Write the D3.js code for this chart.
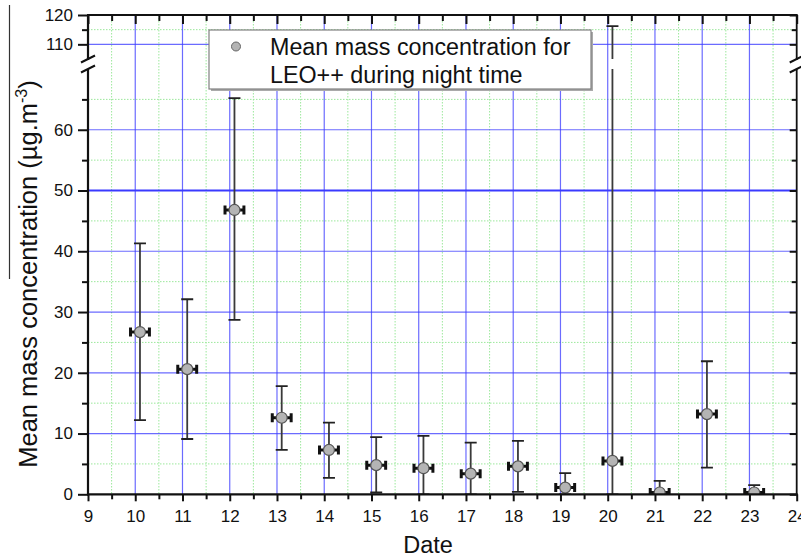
<!DOCTYPE html>
<html><head><meta charset="utf-8">
<script src="https://cdn.jsdelivr.net/npm/d3@7"></script>
<style>body{margin:0;background:#fff}svg{display:block}text{font-family:Arial,"Liberation Sans",sans-serif;fill:#111}</style>
</head><body><svg id="c" width="801" height="559"></svg>
<script>
// ---- data ----
const days = [10,11,12,13,14,15,16,17,18,19,20,21,22,23];
const means = [26.7,20.6,46.8,12.6,7.3,4.8,4.3,3.4,4.6,1.1,5.5,0.3,13.2,0.3];
const upperErr = [41.3,32.1,65.2,17.8,11.8,9.4,9.6,8.5,8.8,3.5,116.2,2.2,21.9,1.5];
const lowerErr = [12.2,9.1,28.7,7.3,2.7,0.3,0,0,0.4,0,0,0,4.4,0];
const xTicks = [9,10,11,12,13,14,15,16,17,18,19,20,21,22,23,24];
const yTicksLow = [0,10,20,30,40,50,60];
const yTicksUp = [110,120];
const yMinorLow = [5,15,25,35,45,55,65];
const yMinorUp = [115];
const xOffset = 0.1, xErr = 0.2;
const legendLines = ["Mean mass concentration for","LEO++ during night time"];

const svg = d3.select("#c");
const x = d3.scaleLinear().domain([9,24]).range([88,796.7]);
const yLow = d3.scaleLinear().domain([0,70]).range([494.3,69]);
const yUp = d3.scaleLinear().domain([105,120]).range([59,15]);
const L = x.range()[0], R = x.range()[1];
const BLUE = "#3a3aff", GREEN = "#9be89b";
const xMinor = d3.range(9.5,24,1);

const defs = svg.append("defs");
defs.append("clipPath").attr("id","clipLow").append("rect")
  .attr("x",L).attr("y",yLow(70)).attr("width",R-L).attr("height",yLow(0)-yLow(70));
defs.append("clipPath").attr("id","clipUp").append("rect")
  .attr("x",L).attr("y",yUp(120)).attr("width",R-L).attr("height",yUp(105)-yUp(120));

const grid = svg.append("g");
grid.selectAll(".vm").data(xMinor).join("line")
  .attr("x1",d=>x(d)).attr("x2",d=>x(d)).attr("y1",yUp(120)).attr("y2",yLow(0))
  .attr("stroke",GREEN).attr("stroke-width",1).attr("stroke-dasharray","1.5,1.5");
grid.selectAll(".hml").data(yMinorLow).join("line")
  .attr("x1",L).attr("x2",R).attr("y1",d=>yLow(d)).attr("y2",d=>yLow(d))
  .attr("stroke",GREEN).attr("stroke-width",1).attr("stroke-dasharray","1.5,1.5");
grid.selectAll(".hmu").data(yMinorUp).join("line")
  .attr("x1",L).attr("x2",R).attr("y1",d=>yUp(d)).attr("y2",d=>yUp(d))
  .attr("stroke",GREEN).attr("stroke-width",1).attr("stroke-dasharray","1.5,1.5");
grid.selectAll(".vM").data(xTicks.slice(1,-1)).join("line")
  .attr("x1",d=>x(d)).attr("x2",d=>x(d)).attr("y1",yUp(120)).attr("y2",yLow(0))
  .attr("stroke",BLUE).attr("stroke-opacity",0.75).attr("stroke-width",1.2);
grid.selectAll(".hMl").data(yTicksLow.slice(1)).join("line")
  .attr("x1",L).attr("x2",R).attr("y1",d=>yLow(d)).attr("y2",d=>yLow(d))
  .attr("stroke",BLUE).attr("stroke-opacity",d=>d===50?1:0.75).attr("stroke-width",d=>d===50?2:1.2);
grid.selectAll(".hMu").data([110]).join("line")
  .attr("x1",L).attr("x2",R).attr("y1",d=>yUp(d)).attr("y2",d=>yUp(d))
  .attr("stroke",BLUE).attr("stroke-opacity",0.75).attr("stroke-width",1.2);

function drawMarks(y, clip){
  const g = svg.append("g").attr("clip-path",`url(#${clip})`);
  const pts = days.map((d,i)=>({d, m:means[i], hi:upperErr[i], lo:lowerErr[i]}));
  g.selectAll(".ev").data(pts).join("line")
    .attr("x1",p=>x(p.d+xOffset)).attr("x2",p=>x(p.d+xOffset))
    .attr("y1",p=>y(p.hi)).attr("y2",p=>y(p.lo))
    .attr("stroke","#3a3a3a").attr("stroke-width",1.8);
  g.selectAll(".ct").data(pts).join("line")
    .attr("x1",p=>x(p.d+xOffset)-6).attr("x2",p=>x(p.d+xOffset)+6)
    .attr("y1",p=>y(p.hi)).attr("y2",p=>y(p.hi))
    .attr("stroke","#222").attr("stroke-width",1.8);
  g.selectAll(".cb").data(pts).join("line")
    .attr("x1",p=>x(p.d+xOffset)-6).attr("x2",p=>x(p.d+xOffset)+6)
    .attr("y1",p=>y(p.lo)).attr("y2",p=>y(p.lo))
    .attr("stroke","#222").attr("stroke-width",1.8);
  g.selectAll(".eh").data(pts).join("line")
    .attr("x1",p=>x(p.d+xOffset-xErr)).attr("x2",p=>x(p.d+xOffset+xErr))
    .attr("y1",p=>y(p.m)).attr("y2",p=>y(p.m))
    .attr("stroke","#111").attr("stroke-width",3);
  g.selectAll(".chl").data(pts).join("line")
    .attr("x1",p=>x(p.d+xOffset-xErr)).attr("x2",p=>x(p.d+xOffset-xErr))
    .attr("y1",p=>y(p.m)-4.5).attr("y2",p=>y(p.m)+4.5)
    .attr("stroke","#111").attr("stroke-width",3);
  g.selectAll(".chr").data(pts).join("line")
    .attr("x1",p=>x(p.d+xOffset+xErr)).attr("x2",p=>x(p.d+xOffset+xErr))
    .attr("y1",p=>y(p.m)-4.5).attr("y2",p=>y(p.m)+4.5)
    .attr("stroke","#111").attr("stroke-width",3);
  g.selectAll(".pt").data(pts).join("circle")
    .attr("cx",p=>x(p.d+xOffset)).attr("cy",p=>y(p.m)).attr("r",5.5)
    .attr("fill","#b4b4b4").attr("stroke","#555").attr("stroke-width",1.2);
}
drawMarks(yLow,"clipLow");
drawMarks(yUp,"clipUp");

const lg = svg.append("g");
lg.append("rect").attr("x",211).attr("y",32).attr("width",382).attr("height",59).attr("fill","#aaa");
lg.append("rect").attr("x",209).attr("y",30).attr("width",382).attr("height",59)
  .attr("fill","#fff").attr("stroke","#808080").attr("stroke-width",1.2);
lg.append("circle").attr("cx",236).attr("cy",46.5).attr("r",4.5).attr("fill","#b4b4b4").attr("stroke","#666").attr("stroke-width",1);
lg.selectAll("text").data(legendLines).join("text")
  .attr("x",270).attr("y",(d,i)=>55+i*28.3).attr("font-size",23.3).text(d=>d);

const ax = svg.append("g");
const T = yUp(120), B = yLow(0);
ax.append("g").attr("transform",`translate(0,${B})`)
  .call(d3.axisBottom(x).tickValues(xTicks).tickSize(7).tickPadding(9).tickFormat(d3.format("d")))
  .call(g=>{g.select(".domain").remove();g.selectAll("line").attr("stroke","#111").attr("stroke-width",2);
    g.selectAll("text").attr("font-size",17).attr("font-family","Arial");});
ax.append("g").attr("transform",`translate(0,${B})`)
  .call(d3.axisBottom(x).tickValues(xMinor).tickSize(5).tickFormat(""))
  .call(g=>{g.select(".domain").remove();g.selectAll("line").attr("stroke","#111").attr("stroke-width",2);});
ax.append("g").attr("transform",`translate(0,${T})`)
  .call(d3.axisTop(x).tickValues(xTicks).tickSize(-9).tickFormat(""))
  .call(g=>{g.select(".domain").remove();g.selectAll("line").attr("stroke","#111").attr("stroke-width",2);});
ax.append("g").attr("transform",`translate(0,${T})`)
  .call(d3.axisTop(x).tickValues(xMinor).tickSize(-6).tickFormat(""))
  .call(g=>{g.select(".domain").remove();g.selectAll("line").attr("stroke","#111").attr("stroke-width",2);});
function leftAxis(scale, major, minor){
  ax.append("g").attr("transform",`translate(${L},0)`)
    .call(d3.axisLeft(scale).tickValues(major).tickSize(10).tickPadding(5).tickFormat(d3.format("d")))
    .call(g=>{g.select(".domain").remove();g.selectAll("line").attr("stroke","#111").attr("stroke-width",2);
      g.selectAll("text").attr("font-size",17).attr("font-family","Arial");});
  ax.append("g").attr("transform",`translate(${L},0)`)
    .call(d3.axisLeft(scale).tickValues(minor).tickSize(6).tickFormat(""))
    .call(g=>{g.select(".domain").remove();g.selectAll("line").attr("stroke","#111").attr("stroke-width",2);});
  ax.append("g").attr("transform",`translate(${R},0)`)
    .call(d3.axisRight(scale).tickValues(major).tickSize(-7).tickFormat(""))
    .call(g=>{g.select(".domain").remove();g.selectAll("line").attr("stroke","#111").attr("stroke-width",2);});
  ax.append("g").attr("transform",`translate(${R},0)`)
    .call(d3.axisRight(scale).tickValues(minor).tickSize(-5).tickFormat(""))
    .call(g=>{g.select(".domain").remove();g.selectAll("line").attr("stroke","#111").attr("stroke-width",2);});
}
leftAxis(yLow, yTicksLow, yMinorLow);
leftAxis(yUp, yTicksUp, yMinorUp);
const segs = [[yLow(0),yLow(70)],[yUp(105),yUp(120)]];
segs.forEach(([a,b])=>{
  ax.append("line").attr("x1",L).attr("x2",L).attr("y1",a+1).attr("y2",b).attr("stroke","#111").attr("stroke-width",2.2);
  ax.append("line").attr("x1",R).attr("x2",R).attr("y1",a+1).attr("y2",b).attr("stroke","#111").attr("stroke-width",1.8);
});
ax.append("line").attr("x1",L-1).attr("x2",R+1).attr("y1",B).attr("y2",B).attr("stroke","#111").attr("stroke-width",2.2);
ax.append("line").attr("x1",L-1).attr("x2",R+1).attr("y1",T).attr("y2",T).attr("stroke","#111").attr("stroke-width",1.8);
[L,R].forEach(xx=>{
  [yLow(70),yUp(105)].forEach(yy=>{
    ax.append("line").attr("x1",xx-7).attr("x2",xx+7).attr("y1",yy+3.5).attr("y2",yy-3.5)
      .attr("stroke","#111").attr("stroke-width",2);
  });
});

svg.append("text").attr("x",428).attr("y",553).attr("text-anchor","middle").attr("font-size",23.5).text("Date");
const yt = svg.append("text").attr("transform","translate(37,274) rotate(-90)")
  .attr("text-anchor","middle").attr("font-size",25.5);
yt.append("tspan").text("Mean mass concentration (µg.m");
yt.append("tspan").attr("dy",-10).attr("font-size",16).text("-3");
yt.append("tspan").attr("dy",10).text(")");
svg.append("line").attr("x1",9.5).attr("x2",9.5).attr("y1",5).attr("y2",279).attr("stroke","#333").attr("stroke-width",1.2);
</script></body></html>
